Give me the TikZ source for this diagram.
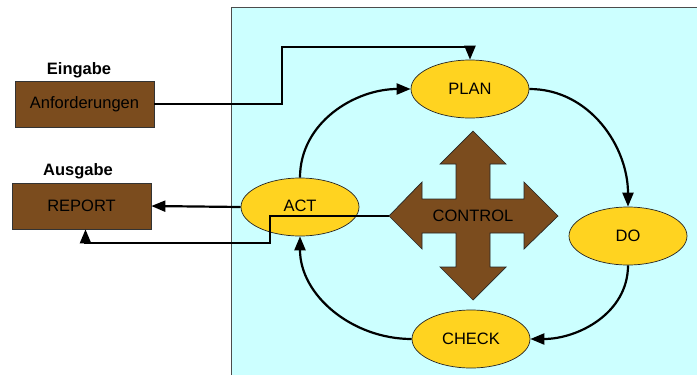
\documentclass[tikz,border=0pt]{standalone}
\usepackage{fontspec}
\setmainfont{Liberation Sans}
\usetikzlibrary{arrows.meta,shapes.geometric}
\definecolor{bgcyan}{RGB}{204,255,255}
\definecolor{boxbrown}{RGB}{123,76,30}
\definecolor{elyellow}{RGB}{255,211,32}
\tikzset{
  phase/.style={ellipse,draw=black!85,line width=0.7pt,fill=elyellow,minimum width=118pt,minimum height=58pt,inner sep=0pt,font=\fontsize{16.5}{19}\selectfont},
  iobox/.style={rectangle,draw=black!80,line width=0.7pt,fill=boxbrown,minimum width=139pt,minimum height=46pt,inner sep=0pt,font=\fontsize{16.5}{19}\selectfont},
  iolabel/.style={font=\fontsize{16.5}{19}\selectfont\bfseries},
  conn/.style={line width=2.2pt,-{Triangle[length=14pt,width=11pt]}},
  plainconn/.style={line width=2.2pt}
}
\begin{document}
\begin{tikzpicture}[x=1pt,y=-1pt]
\useasboundingbox (0,0) rectangle (697,375);
% background panel
\fill[bgcyan] (231,7) rectangle (700,380);
\draw[black!70,line width=0.8pt] (231,380) -- (231,7) -- (700,7);
% control cross
\fill[boxbrown,draw=black!85,line width=0.7pt]
  (473,131) -- (506,164) -- (490,164) -- (490,199) -- (524,199) -- (524,182) -- (558,216)
  -- (524,249) -- (524,233) -- (490,233) -- (490,267) -- (506,267) -- (473,300)
  -- (440,267) -- (456,267) -- (456,233) -- (422,233) -- (422,249) -- (389,216)
  -- (422,182) -- (422,199) -- (456,199) -- (456,164) -- (440,164) -- cycle;
\node[font=\fontsize{16.5}{19}\selectfont] (control) at (473,216) {CONTROL};
\coordinate (ctrlL) at (389,216);
% phases
\node[phase] (plan) at (470,89) {PLAN};
\node[phase] (act) at (300,207) {\raisebox{3pt}{ACT}};
\node[phase] (do) at (628,236) {DO};
\node[phase] (check) at (471,339) {CHECK};
% io boxes
\node[iobox] (anf) at (84.5,104) {Anforderungen};
\node[iobox] (report) at (81.5,206) {REPORT};
\node[iolabel] (eing) at (79,70) {Eingabe};
\node[iolabel] (ausg) at (78,171) {Ausgabe};
% cycle
\draw[conn] (act.north) to[out=90,in=180] (plan.west);
\draw[conn] (plan.east) to[out=0,in=90] (do.north);
\draw[conn] (do.south) to[out=-90,in=0] (check.east);
\draw[conn] (check.west) to[out=180,in=-90] (act.south);
% input
\coordinate (i1) at (282,104);
\coordinate (i2) at (470,47);
\draw[conn] (anf.east) -- (i1) |- (i2) -- (plan.north);
% output
\draw[conn] (act.west) -- (report.east);
\coordinate (o1) at (270,216);
\coordinate (o2) at (270,243);
\draw[conn] (ctrlL) -- (o1) -- (o2) -| ([xshift=4pt]report.south);
\end{tikzpicture}
\end{document}
